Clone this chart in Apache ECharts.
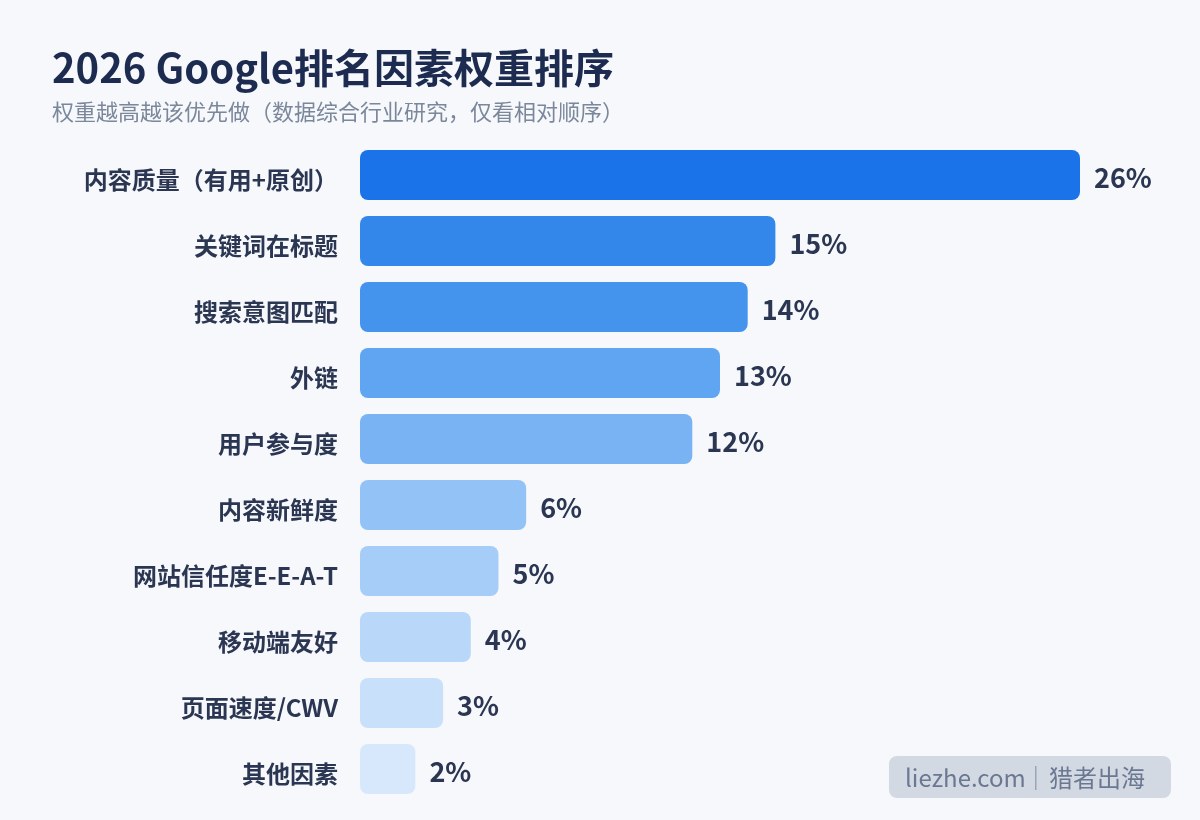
<!DOCTYPE html>
<html><head><meta charset="utf-8">
<script src="https://cdn.jsdelivr.net/npm/echarts@6/dist/echarts.min.js"></script>
<style>html,body{margin:0;padding:0;background:#f6f8fc;}#c{width:1200px;height:820px;}</style>
</head><body><div id="c"></div>
<script>
const categories = ['内容质量（有用+原创）','关键词在标题','搜索意图匹配','外链','用户参与度','内容新鲜度','网站信任度E-E-A-T','移动端友好','页面速度/CWV','其他因素'];
const values = [26,15,14,13,12,6,5,4,3,2];
const barColors = ['#1a73e8','#3387ea','#4494ee','#5fa5f1','#79b3f3','#93c3f6','#a6cdf7','#b8d7f9','#c9e0fa','#d8e8fc'];
const FONT = '"Noto Sans CJK SC","Noto Sans",sans-serif';
const chart = echarts.init(document.getElementById('c'));
chart.setOption({
  backgroundColor:'#f6f8fc',
  animation:false,
  title:{text:'2026 Google排名因素权重排序',subtext:'权重越高越该优先做（数据综合行业研究，仅看相对顺序）',left:47,top:43,itemGap:13,
    textStyle:{fontFamily:FONT,fontSize:40,fontWeight:'bold',color:'#1c2b4f'},
    subtextStyle:{fontFamily:FONT,fontSize:22,color:'#7b879b'}},
  grid:{left:360,right:120,top:142,bottom:18,containLabel:false},
  xAxis:{type:'value',min:0,max:26,show:false},
  yAxis:{type:'category',inverse:true,data:categories,axisLine:{show:false},axisTick:{show:false},
    axisLabel:{margin:22,verticalAlign:'top',lineHeight:10,fontFamily:FONT,fontSize:24,fontWeight:'bold',color:'#2b3652'}},
  series:[{type:'bar',barWidth:50,
    data:values.map((v,i)=>({value:v,itemStyle:{color:barColors[i]}})),
    itemStyle:{borderRadius:8},
    label:{show:true,position:'right',distance:14,offset:[0,3],formatter:'{c}%',fontFamily:FONT,fontSize:27,fontWeight:'bold',color:'#2b3652'}}],
  graphic:[{type:'group',left:889,top:756,children:[
    {type:'rect',shape:{x:0,y:0,width:282,height:42,r:8},style:{fill:'#d3d9e3'}},
    {type:'text',style:{x:16,y:22,text:'liezhe.com',verticalAlign:'middle',font:'24px '+FONT,fill:'#6b7892'}},
    {type:'rect',shape:{x:146,y:10,width:1.5,height:24},style:{fill:'#9aa5b8'}},
    {type:'text',style:{x:160,y:22,text:'猎者出海',verticalAlign:'middle',font:'24px '+FONT,fill:'#6b7892'}}
  ]}]
});
</script></body></html>
